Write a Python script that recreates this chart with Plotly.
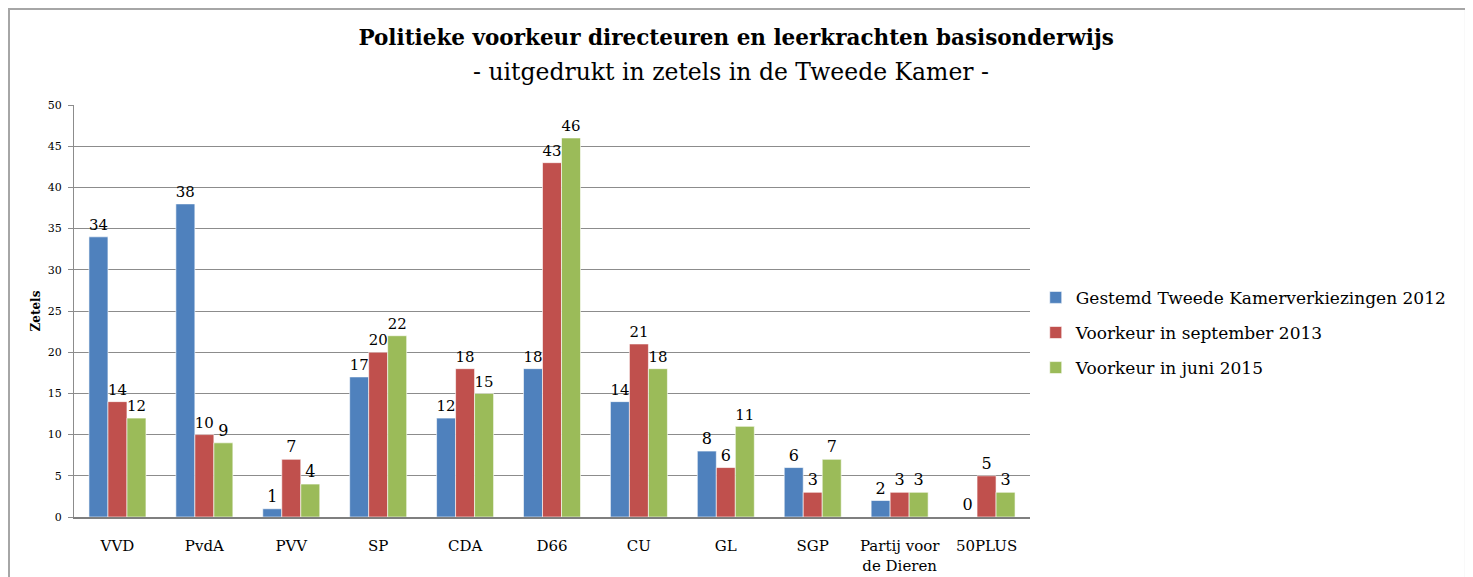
import plotly.graph_objects as go

# parties on the x axis
partijen = ["VVD", "PvdA", "PVV", "SP", "CDA", "D66", "CU", "GL", "SGP",
            "Partij voor<br>de Dieren", "50PLUS"]

# seats per series
gestemd_2012 = [34, 38, 1, 17, 12, 18, 14, 8, 6, 2, 0]
voorkeur_2013 = [14, 10, 7, 20, 18, 43, 21, 6, 3, 3, 5]
voorkeur_2015 = [12, 9, 4, 22, 15, 46, 18, 11, 7, 3, 3]

series_names = ["Gestemd Tweede Kamerverkiezingen 2012",
                "Voorkeur in september 2013",
                "Voorkeur in juni 2015"]
kleuren = ["#4F81BD", "#C0504D", "#9BBB59"]

serif = "DejaVu Serif, Liberation Serif, serif"

fig = go.Figure()
for i, (naam, waarden, kleur) in enumerate(zip(series_names,
                                               [gestemd_2012, voorkeur_2013, voorkeur_2015],
                                               kleuren)):
    fig.add_trace(go.Bar(
        x=partijen, y=waarden, name=naam, legendgroup=f"g{i}",
        marker=dict(color=kleur, line=dict(color="rgba(255,255,255,0.6)", width=1)),
        text=[str(v) for v in waarden], textposition="outside",
        textfont=dict(family=serif, size=16, color="black"),
        cliponaxis=False,
    ))

# page body adds an 8px offset, so the figure is a bit smaller than the window
fig.update_layout(
    width=1465, height=569,
    paper_bgcolor="white", plot_bgcolor="white",
    barmode="group", bargap=0.344, bargroupgap=0,
    margin=dict(l=66, r=443, t=97, b=60, autoexpand=False),
    font=dict(family=serif, color="black"),
    title=dict(
        text="<b>Politieke voorkeur directeuren en leerkrachten basisonderwijs</b>",
        xref="container", x=0.497, xanchor="center",
        yref="container", y=0.949, yanchor="middle",
        font=dict(family=serif, size=21.5, color="black"),
    ),
    annotations=[dict(
        text="- uitgedrukt in zetels in de Tweede Kamer -",
        xref="paper", yref="paper", x=0.687, y=1.080,
        xanchor="center", yanchor="middle", showarrow=False,
        font=dict(family=serif, size=23.5, color="black"),
    )],
    legend=dict(
        x=1.006, xanchor="left", y=0.447, yanchor="middle",
        font=dict(family=serif, size=17, color="black"),
        itemwidth=30, tracegroupgap=10,
        bgcolor="rgba(0,0,0,0)",
    ),
    shapes=[dict(type="rect", xref="paper", yref="paper",
                 x0=-0.068, x1=1.456, y0=-0.2, y1=1.233,
                 line=dict(color="#A6A6A6", width=2), fillcolor="rgba(0,0,0,0)",
                 layer="below")],
)

fig.update_yaxes(
    range=[0, 50], dtick=5, showgrid=True, gridcolor="#8C8C8C", gridwidth=1,
    showline=True, linecolor="#8C8C8C", linewidth=1,
    ticks="outside", ticklen=5, tickcolor="#8C8C8C", ticklabelstandoff=4,
    tickfont=dict(family=serif, size=11, color="black"),
    zeroline=False, automargin=False,
    title=dict(text="<b>Zetels</b>", font=dict(family=serif, size=12, color="black"),
               standoff=4),
)
fig.update_xaxes(
    showline=True, linecolor="#7F7F7F", linewidth=2,
    ticks="", ticklabelstandoff=14, automargin=False,
    tickfont=dict(family=serif, size=15, color="black"),
    tickangle=0,
)

fig.write_html("out.html")
